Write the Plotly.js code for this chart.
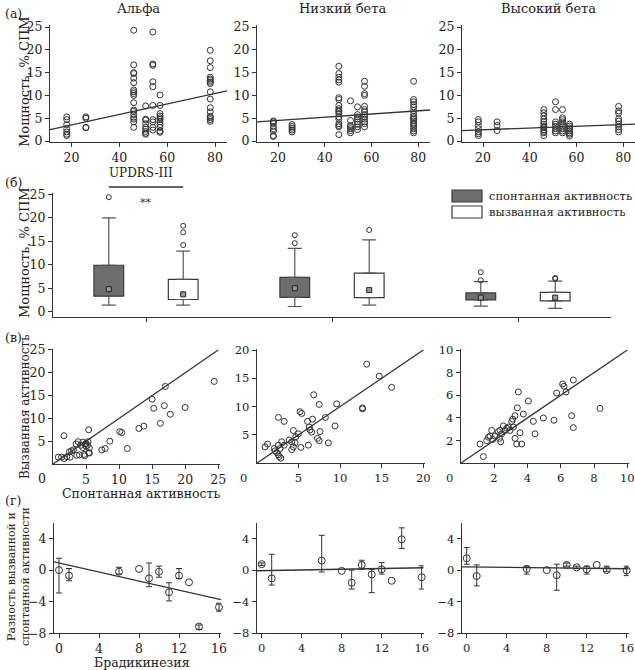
<!DOCTYPE html>
<html><head><meta charset="utf-8">
<script src="https://cdn.plot.ly/plotly-3.0.1.min.js"></script>
<style>body{margin:0;background:#fff}#c{width:635px;height:670px}</style>
</head><body><div id="c"></div>
<script>
// ---------- DATA ----------
const updrs = [18, 26, 46, 51, 54, 57, 78];
const alphaPower = [
  [5.3, 4.7, 3.6, 2.7, 2.0, 1.5, 1.2],
  [5.3, 5.0, 3.0, 2.9],
  [24.3, 16.7, 15.0, 14.8, 13.8, 12.8, 11.2, 10.8, 10.4, 10.0, 8.4, 6.8, 6.5, 5.8, 5.2, 4.8, 4.2, 3.0],
  [7.7, 4.8, 4.6, 3.8, 3.0, 2.6, 2.1, 1.7, 1.5],
  [23.9, 16.9, 16.6, 13.0, 11.9, 7.8, 4.7, 4.2, 3.0, 2.4],
  [10.1, 7.8, 6.0, 5.5, 5.1, 4.7, 4.2, 3.6, 3.0, 2.2, 1.9],
  [19.9, 17.6, 16.1, 14.0, 13.6, 13.3, 12.9, 12.6, 10.8, 9.2, 7.3, 6.4, 5.4, 5.1, 4.7, 4.3]
];
const lowBetaPower = [
  [4.4, 4.2, 3.9, 3.2, 2.7, 2.2, 1.2, 1.0],
  [3.6, 3.2, 2.8, 2.4, 2.0],
  [16.4, 14.8, 14.0, 13.4, 12.9, 9.5, 9.1, 7.8, 7.1, 6.7, 6.4, 6.0, 5.3, 4.8, 3.8, 3.4, 3.1, 1.4],
  [8.8, 4.5, 3.4, 3.1, 2.7, 2.3, 1.8],
  [7.5, 5.8, 5.3, 4.8, 4.2, 3.7, 3.1, 2.5],
  [13.1, 12.0, 10.4, 10.0, 7.6, 6.9, 6.4, 5.8, 5.3, 4.8, 4.2, 3.8, 3.1],
  [13.1, 9.1, 8.6, 8.0, 7.5, 6.7, 6.0, 5.4, 5.1, 4.8, 4.4, 3.9, 3.6, 3.2, 2.7, 2.2, 1.8]
];
const highBetaPower = [
  [4.7, 4.2, 3.4, 2.7, 2.0, 1.6, 1.2],
  [4.2, 3.4, 2.3],
  [6.9, 6.2, 5.5, 4.8, 4.2, 3.7, 3.2, 2.9, 2.5, 2.1, 1.8, 1.2],
  [8.6, 6.9, 4.2, 3.7, 3.2, 2.7, 2.2, 1.8],
  [6.9, 5.1, 4.7, 4.2, 3.7, 3.2, 2.7, 2.2, 1.8],
  [3.7, 3.3, 2.9, 2.6, 2.2, 1.8, 1.5, 1.1],
  [7.6, 6.6, 6.1, 4.9, 4.4, 3.7, 3.1, 2.5, 2.0]
];
const fitUpdrsX = [11, 85];
const fitAlpha = [2.5, 11.0];
const fitLowBeta = [4.2, 6.8];
const fitHighBeta = [2.3, 3.7];

const bands = ['Альфа', 'Низкий бета', 'Высокий бета'];
const spontQ1 = [3.3, 3.05, 2.5];
const spontQ3 = [9.9, 7.3, 4.0];
const spontLo = [1.4, 1.1, 1.2];
const spontHi = [20.0, 13.5, 6.4];
const spontMed = [4.8, 5.0, 3.0];
const spontOut = [[24.4], [16.3, 14.6], [8.4, 6.7]];
const evokQ1 = [2.6, 3.0, 2.3];
const evokQ3 = [6.9, 8.2, 4.1];
const evokLo = [1.4, 1.4, 0.7];
const evokHi = [12.9, 15.3, 6.5];
const evokMed = [3.7, 4.6, 3.0];
const evokOut = [[18.3, 16.9, 14.2], [17.4], [7.2, 7.0]];

const alphaSpont = [1.65, 5.4, 10.1, 10.4, 15.0, 17.0, 15.25, 16.85, 17.75, 20.0, 24.4, 13.0, 13.75, 16.25, 8.6, 7.9, 7.4, 11.25, 0.8, 1.3, 1.7, 2.1, 2.5, 2.8, 3.1, 3.5, 3.8, 4.0, 4.2, 4.5, 4.5, 4.7, 4.9, 5.0, 5.2, 5.3, 5.5, 5.5, 5.4, 4.8, 3.6, 2.6, 5.0];
const alphaEvok  = [6.2, 7.5, 7.1, 6.9, 14.2, 17.0, 12.2, 12.8, 10.9, 12.4, 18.1, 7.8, 8.3, 8.9, 5.0, 3.4, 3.1, 3.4, 1.5, 1.5, 1.2, 1.6, 2.7, 2.9, 3.1, 4.4, 4.9, 2.0, 4.1, 4.8, 3.6, 2.1, 4.4, 3.9, 4.1, 4.9, 3.5, 2.4, 2.5, 1.8, 1.9, 1.5, 4.5];
const lowSpont = [13.2, 14.7, 16.2, 12.7, 12.7, 9.6, 6.84, 7.5, 5.2, 5.4, 8.24, 6.7, 6.1, 2.6, 3.3, 9.4, 7.6, 6.4, 6.6, 6.3, 4.4, 5.0, 4.7, 7.3, 7.5, 8.6, 6.2, 5.3, 4.4, 4.6, 4.2, 3.9, 3.0, 3.3, 4.2, 1.0, 1.3, 2.1, 2.2, 2.4, 2.6, 2.7, 2.9, 2.6, 2.8];
const lowEvok  = [17.5, 15.4, 13.4, 9.8, 9.6, 10.5, 12.1, 10.4, 9.1, 8.8, 8.1, 7.8, 7.4, 8.1, 7.4, 6.6, 5.6, 5.9, 5.5, 6.4, 5.8, 5.2, 4.7, 4.4, 4.0, 3.6, 3.2, 2.8, 2.9, 3.6, 3.8, 4.1, 3.8, 3.2, 2.4, 2.9, 3.4, 2.6, 2.2, 1.9, 1.5, 1.2, 0.9, 3.2, 2.6];
const highSpont = [1.16, 1.36, 1.56, 1.66, 1.76, 1.86, 1.92, 2.06, 2.26, 2.36, 2.32, 2.4, 2.46, 2.56, 2.66, 2.76, 2.86, 2.96, 3.06, 3.12, 3.26, 3.26, 3.36, 3.66, 3.46, 3.4, 3.56, 3.76, 4.06, 4.36, 4.46, 4.96, 5.6, 5.76, 6.12, 6.2, 6.32, 6.76, 6.66, 6.76, 8.36, 3.16];
const highEvok  = [1.7, 0.6, 2.0, 2.3, 2.4, 2.9, 2.1, 2.4, 2.8, 2.9, 2.2, 1.9, 2.6, 3.3, 2.9, 3.1, 3.2, 2.9, 3.7, 3.9, 4.2, 2.2, 1.7, 1.7, 6.3, 4.9, 2.7, 4.35, 5.5, 3.7, 2.6, 4.0, 3.8, 6.2, 7.0, 6.8, 6.3, 7.35, 4.2, 3.15, 4.85, 3.2];
const identityMax = [25, 20, 10];

const bradX = [0, 1, 6, 8, 9, 10, 11, 12, 13, 14, 16];
const diffAlpha   = [0.0, -0.7, -0.2, 0.15, -1.05, -0.2, -2.8, -0.7, -1.55, -7.15, -4.7];
const diffAlphaHi = [1.5, 0.2, 0.35, null, 0.9, 0.5, -1.6, 0.2, null, -6.95, -4.2];
const diffAlphaLo = [-2.9, -1.35, -0.5, null, -2.1, -0.9, -3.9, -1.05, null, -7.5, -5.2];
const diffLow     = [0.75, -1.05, 1.2, -0.1, -1.6, 0.65, -0.55, 0.1, -1.35, 3.9, -0.9];
const diffLowHi   = [0.9, 2.0, 4.4, null, 0.0, 1.25, 0.1, 0.95, null, 5.35, 0.55];
const diffLowLo   = [0.6, -1.9, -0.25, null, -2.4, 0.1, -2.85, -0.5, null, 2.75, -2.4];
const diffHigh    = [1.5, -0.75, 0.15, 0.0, -0.65, 0.65, 0.35, 0.1, 0.65, 0.0, -0.05];
const diffHighHi  = [2.85, 0.65, 0.5, null, 0.75, 0.9, 0.5, 0.5, null, 0.5, 0.5];
const diffHighLo  = [0.75, -2.0, -0.5, null, -2.55, 0.5, 0.2, -0.5, null, -0.2, -0.7];
const fitBradX = [-0.5, 16.2];
const fitDiffAlpha = [1.05, -3.73];
const fitDiffLow = [-0.08, 0.3];
const fitDiffHigh = [0.42, 0.17];

// ---------- LAYOUT HELPERS ----------
const W = 635, H = 670;
const FONT = '"DejaVu Serif", serif';
const INK = '#333';
const fx = p => p / W;
const fy = p => 1 - p / H;

function axis(lo, hi, range, tickvals, size, isY, anchor, extra) {
  const a = {
    domain: isY ? [fy(hi), fy(lo)] : [fx(lo), fx(hi)],
    range: range, tickvals: tickvals, ticks: 'outside', ticklen: 4, tickwidth: 1,
    tickcolor: INK, showline: true, linecolor: INK, linewidth: 1,
    showgrid: false, zeroline: false, anchor: anchor, automargin: false,
    tickfont: {family: FONT, size: size, color: '#222'}
  };
  return Object.assign(a, extra || {});
}

const traces = [];
const circ = (size) => ({symbol: 'circle-open', size: size, color: INK, line: {width: 1, color: INK}});
const lineStyle = {color: INK, width: 1.3};

[[alphaPower, fitAlpha, ''], [lowBetaPower, fitLowBeta, '2'], [highBetaPower, fitHighBeta, '3']].forEach(([cols, fit, id]) => {
  const xs = [], ys = [];
  cols.forEach((c, i) => c.forEach(v => { xs.push(updrs[i]); ys.push(v); }));
  traces.push({x: xs, y: ys, xaxis: 'x' + id, yaxis: 'y' + id, type: 'scatter', mode: 'markers', marker: circ(6), cliponaxis: false});
  traces.push({x: fitUpdrsX, y: fit, xaxis: 'x' + id, yaxis: 'y' + id, type: 'scatter', mode: 'lines', line: lineStyle});
});

const off = 0.2, bw = 0.16;
const pos = (k) => bands.map((_, i) => i + k);
function boxSet(q1, q3, lo, hi, med, outs, k, fill, name) {
  const p = pos(k);
  traces.push({type: 'bar', x: p, base: q1, y: q3.map((v, i) => v - q1[i]), width: bw,
    xaxis: 'x4', yaxis: 'y4', marker: {color: fill, line: {color: '#3a3a3a', width: 1.2}}, name: name});
  traces.push({type: 'scatter', mode: 'markers', x: p, y: q3, xaxis: 'x4', yaxis: 'y4',
    marker: {size: 1, color: 'rgba(0,0,0,0)'},
    error_y: {type: 'data', symmetric: false, array: hi.map((v, i) => v - q3[i]), arrayminus: q3.map(() => 0), width: 7, thickness: 1.2, color: '#555'}});
  traces.push({type: 'scatter', mode: 'markers', x: p, y: q1, xaxis: 'x4', yaxis: 'y4',
    marker: {size: 1, color: 'rgba(0,0,0,0)'},
    error_y: {type: 'data', symmetric: false, array: q1.map(() => 0), arrayminus: lo.map((v, i) => q1[i] - v), width: 7, thickness: 1.2, color: '#555'}});
  traces.push({type: 'scatter', mode: 'markers', x: p, y: med, xaxis: 'x4', yaxis: 'y4',
    marker: {symbol: 'square', size: 5, color: '#9a9a9a', line: {color: '#222', width: 1}}});
  const ox = [], oy = [];
  outs.forEach((arr, i) => arr.forEach(v => { ox.push(p[i]); oy.push(v); }));
  traces.push({type: 'scatter', mode: 'markers', x: ox, y: oy, xaxis: 'x4', yaxis: 'y4', marker: circ(5), cliponaxis: false});
}
boxSet(spontQ1, spontQ3, spontLo, spontHi, spontMed, spontOut, -off, '#6e6e6e', 'спонтанная активность');
boxSet(evokQ1, evokQ3, evokLo, evokHi, evokMed, evokOut, off, '#ffffff', 'вызванная активность');

[[alphaSpont, alphaEvok, '5', 0], [lowSpont, lowEvok, '6', 1], [highSpont, highEvok, '7', 2]].forEach(([sx, sy, id, k]) => {
  traces.push({x: sx, y: sy, xaxis: 'x' + id, yaxis: 'y' + id, type: 'scatter', mode: 'markers', marker: circ(6), cliponaxis: false});
  traces.push({x: [0, identityMax[k]], y: [0, identityMax[k]], xaxis: 'x' + id, yaxis: 'y' + id, type: 'scatter', mode: 'lines', line: lineStyle});
});

[[diffAlpha, diffAlphaHi, diffAlphaLo, fitDiffAlpha, '8'], [diffLow, diffLowHi, diffLowLo, fitDiffLow, '9'], [diffHigh, diffHighHi, diffHighLo, fitDiffHigh, '10']].forEach(([y, hi, lo, fit, id]) => {
  const ex = [], ey = [], ep = [], em = [], nx = [], ny = [];
  bradX.forEach((x, i) => {
    if (hi[i] === null) { nx.push(x); ny.push(y[i]); }
    else { ex.push(x); ey.push(y[i]); ep.push(hi[i] - y[i]); em.push(y[i] - lo[i]); }
  });
  traces.push({x: fitBradX, y: fit, xaxis: 'x' + id, yaxis: 'y' + id, type: 'scatter', mode: 'lines', line: lineStyle});
  traces.push({x: ex, y: ey, xaxis: 'x' + id, yaxis: 'y' + id, type: 'scatter', mode: 'markers', marker: circ(7), cliponaxis: false,
    error_y: {type: 'data', symmetric: false, array: ep, arrayminus: em, width: 3, thickness: 1, color: INK}});
  traces.push({x: nx, y: ny, xaxis: 'x' + id, yaxis: 'y' + id, type: 'scatter', mode: 'markers', marker: circ(7), cliponaxis: false});
});

const tA = [20, 40, 60, 80], yA = [0, 5, 10, 15, 20, 25];
const tG = [0, 4, 8, 12, 16], yG = [-8, -4, 0, 4];
const BIG = 12.5, SMALL = 11.5;
const layout = {
  width: W, height: H, margin: {l: 0, r: 0, t: 0, b: 0}, showlegend: false,
  paper_bgcolor: '#fff', plot_bgcolor: 'rgba(0,0,0,0)', barmode: 'overlay',
  font: {family: FONT, color: '#222'},
  xaxis:  axis(50, 227, [11, 85], tA, BIG, false, 'y'),
  yaxis:  axis(25.2, 142.4, [-0.3, 25.4], yA, BIG, true, 'x'),
  xaxis2: axis(257, 430, [11, 85], tA, BIG, false, 'y2'),
  yaxis2: axis(25.2, 142.4, [-0.3, 25.4], yA, BIG, true, 'x2'),
  xaxis3: axis(462, 635, [11, 85], tA, BIG, false, 'y3'),
  yaxis3: axis(25.2, 142.4, [-0.3, 25.4], yA, BIG, true, 'x3'),
  xaxis4: axis(53, 611, [-0.5, 2.5], [0, 1, 2], BIG, false, 'y4', {showticklabels: false}),
  yaxis4: axis(193, 316.7, [-1.07, 25.3], yA, BIG, true, 'x4'),
  xaxis5: axis(53, 219.5, [0, 25.2], [5, 10, 15, 20, 25], BIG, false, 'y5'),
  yaxis5: axis(348.6, 464, [0, 25.3], [5, 10, 15, 20, 25], BIG, true, 'x5'),
  xaxis6: axis(256.7, 425, [0, 20.2], [5, 10, 15, 20], SMALL, false, 'y6'),
  yaxis6: axis(348.9, 463.3, [0, 20.2], [5, 10, 15, 20], SMALL, true, 'x6'),
  xaxis7: axis(460.7, 629, [0, 10.1], [2, 4, 6, 8, 10], SMALL, false, 'y7'),
  yaxis7: axis(348.9, 463.3, [0, 10.1], [2, 4, 6, 8, 10], SMALL, true, 'x7'),
  xaxis8: axis(54, 221, [-0.5, 16.2], tG, BIG, false, 'y8'),
  yaxis8: axis(522.7, 633.3, [-8, 6], yG, BIG, true, 'x8'),
  xaxis9: axis(256.7, 423.7, [-0.5, 16.2], tG, SMALL, false, 'y9'),
  yaxis9: axis(522.7, 633.3, [-8, 6], yG, SMALL, true, 'x9'),
  xaxis10: axis(461.7, 628.7, [-0.5, 16.2], tG, SMALL, false, 'y10'),
  yaxis10: axis(522.7, 633.3, [-8, 6], yG, SMALL, true, 'x10'),
  shapes: [
    {type: 'rect', xref: 'paper', yref: 'paper', x0: fx(452), x1: fx(482), y0: fy(202), y1: fy(190), fillcolor: '#6e6e6e', line: {color: '#3a3a3a', width: 1.2}},
    {type: 'rect', xref: 'paper', yref: 'paper', x0: fx(452), x1: fx(482), y0: fy(218), y1: fy(206), fillcolor: '#fff', line: {color: '#3a3a3a', width: 1.2}},
    {type: 'line', xref: 'x4', yref: 'paper', x0: -off, x1: off, y0: fy(187), y1: fy(187), line: {color: INK, width: 1.3}}
  ],
  annotations: []
};
function txt(t, x, y, size, opts) {
  layout.annotations.push(Object.assign({text: t, x: fx(x), y: fy(y), xref: 'paper', yref: 'paper', showarrow: false,
    xanchor: 'center', yanchor: 'middle', font: {family: FONT, size: size, color: '#222'}}, opts || {}));
}
txt('(а)', 3, 13, 12.5, {xanchor: 'left'});
txt('Альфа', 138, 8, 13);
txt('Низкий бета', 343, 8, 13);
txt('Высокий бета', 548, 8, 13);
txt('Мощность, % СПМ', 24, 82, 13, {textangle: -90});
txt('UPDRS-III', 141, 173, 12);
txt('(б)', 3, 182, 12.5, {xanchor: 'left'});
txt('Мощность, % СПМ', 25, 253, 13, {textangle: -90});
txt('спонтанная активность', 487, 196, 11.5, {xanchor: 'left'});
txt('вызванная активность', 487, 212, 11.5, {xanchor: 'left'});
layout.annotations.push({text: '**', x: 0, xref: 'x4', y: fy(194), yref: 'paper', showarrow: false, font: {family: FONT, size: 11, color: '#333'}});
txt('(в)', 3, 337, 12.5, {xanchor: 'left'});
txt('Вызванная активность', 25, 407, 12, {textangle: -90});
txt('0', 42, 478, BIG);
txt('0', 243, 478, SMALL);
txt('0', 449, 478, SMALL);
txt('Спонтанная активность', 141, 494, 12.5);
txt('(г)', 3, 500, 12.5, {xanchor: 'left'});
txt('Разность вызванной и<br>спонтанной активности', 18, 577, 11, {textangle: -90});
txt('Брадикинезия', 142, 662, 12.5);

Plotly.newPlot('c', traces, layout, {displayModeBar: false, staticPlot: true});
</script></body></html>
